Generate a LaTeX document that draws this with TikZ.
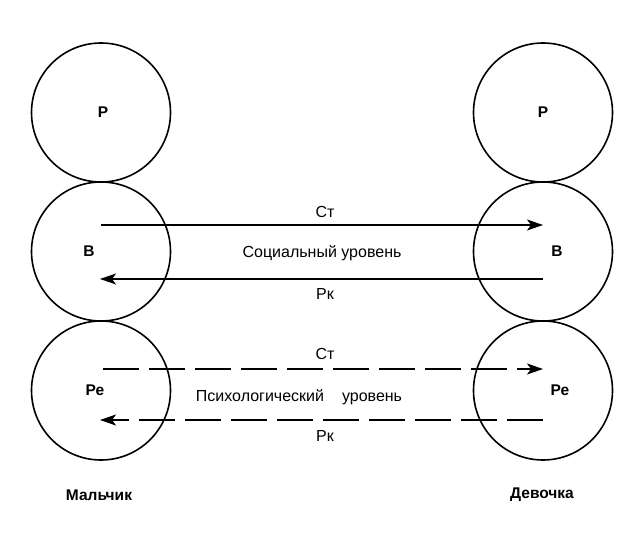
\documentclass[tikz,border=0pt]{standalone}
\usepackage{fontspec}
\setmainfont{Liberation Sans}
\usetikzlibrary{arrows.meta}
\begin{document}
\begin{tikzpicture}[x=1pt,y=-1pt,
  circ/.style={circle,draw,line width=1.6pt,minimum size=139pt,inner sep=0pt},
  lbl/.style={font=\fontsize{15.5}{18}\selectfont\bfseries},
  bot/.style={font=\fontsize{15.5}{18}\selectfont\bfseries},
  mid/.style={font=\fontsize{16}{18}\selectfont},
  arr/.style={line width=1.4pt,-{Stealth[length=16pt,width=11pt,inset=4pt]}},
  dsh/.style={arr,dash pattern=on 36pt off 10pt}]
\useasboundingbox (0,0) rectangle (640,540);
% circles
\node[circ] (L1) at (101,112.5) {};
\node[circ] (L2) at (101,251.5) {};
\node[circ] (L3) at (101,390.5) {};
\node[circ] (R1) at (543,112.5) {};
\node[circ] (R2) at (543,251.5) {};
\node[circ] (R3) at (543,390.5) {};
% circle labels
\node[lbl] (tL1) at (103,112) {Р};
\node[lbl] (tR1) at (543,112) {Р};
\node[lbl] (tL2) at (89,251) {В};
\node[lbl] (tR2) at (557,251) {В};
\node[lbl] (tL3) at (95,390) {Ре};
\node[lbl] (tR3) at (560,390) {Ре};
% arrow ends
\coordinate (a1s) at (101,225);
\coordinate (a1e) at (543,225);
\coordinate (a2s) at (543,279);
\coordinate (a2e) at (100,279);
\coordinate (a3s) at (103,369);
\coordinate (a3e) at (543,369);
\coordinate (a4s) at (543,420);
\coordinate (a4e) at (100,420);
\draw[arr] (a1s) -- (a1e);
\draw[arr] (a2s) -- (a2e);
\draw[dsh] (a3s) -- (a3e);
\draw[dsh] (a4s) -- (a4e);
% middle labels
\node[mid] (st1) at (325,212) {Ст};
\node[mid] (soc) at (322,253) {Социальный уровень};
\node[mid] (rk1) at (325,294) {Рк};
\node[mid] (st2) at (325,354) {Ст};
\node[mid] (psy) at (299,397) {Психологический\hspace{18pt}уровень};
\node[mid] (rk2) at (325,436) {Рк};
% bottom labels
\node[bot] (boy) at (99,495) {Мальчик};
\node[bot] (girl) at (542,495) {Девочка};
\end{tikzpicture}
\end{document}
